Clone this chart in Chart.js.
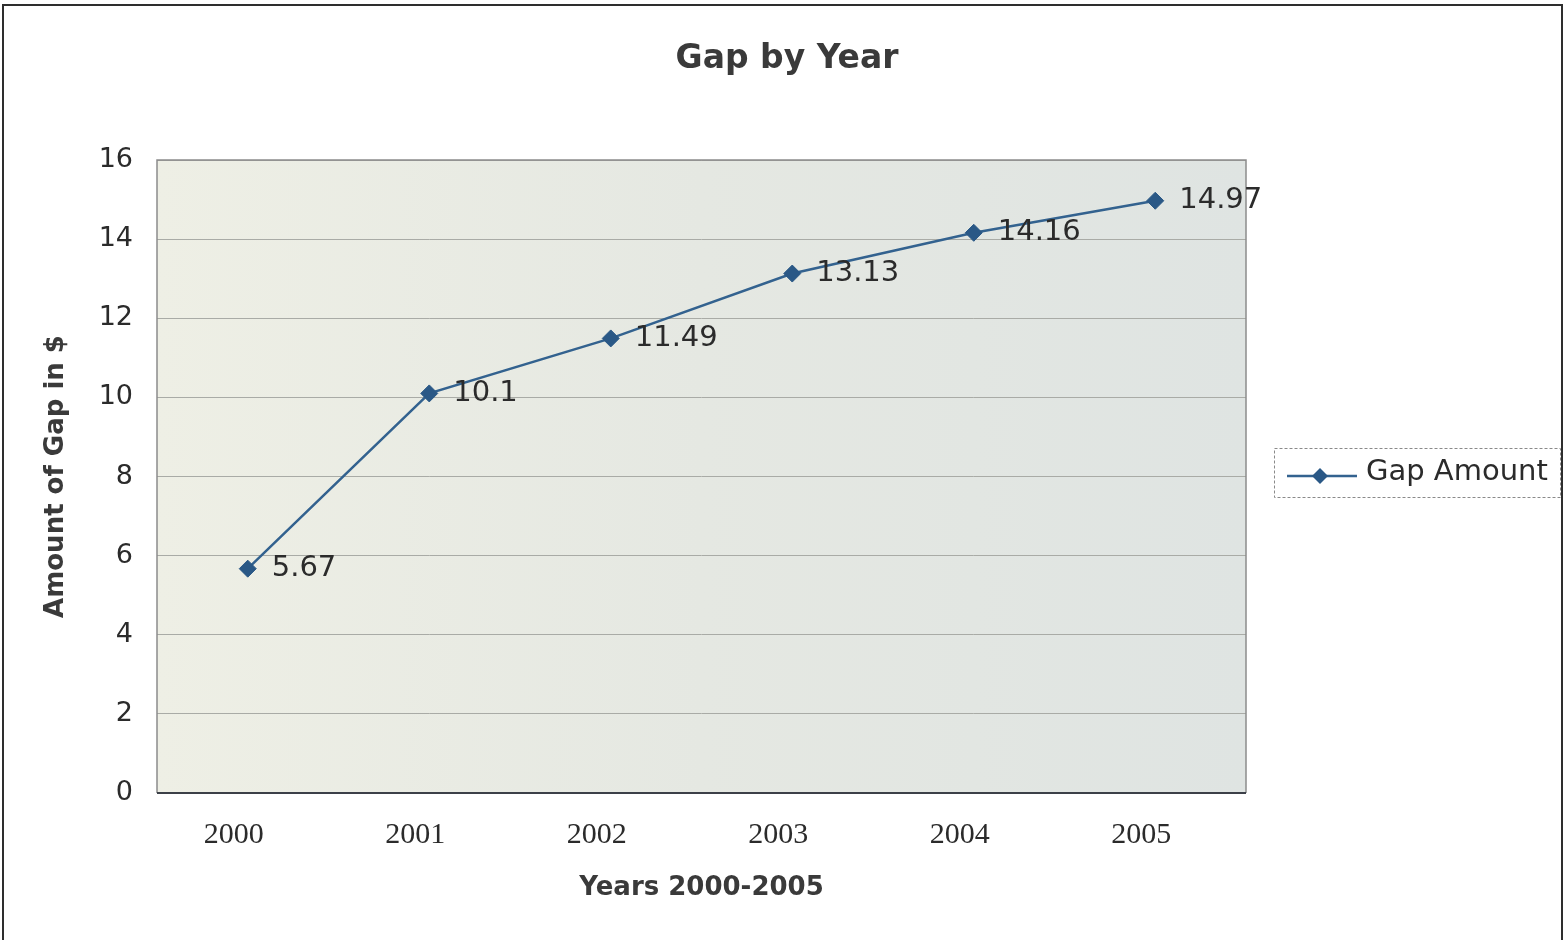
<!DOCTYPE html>
<html>
<head>
<meta charset="utf-8">
<title>Gap by Year</title>
<script src="https://cdn.jsdelivr.net/npm/chart.js@4/dist/chart.umd.min.js"></script>
<style>
  html, body { margin: 0; padding: 0; background: #ffffff; overflow: hidden; }
  #gap { display: block; }
</style>
</head>
<body>
<canvas id="gap" width="1564" height="940"></canvas>
<script>
// Chart data
const years = ['2000', '2001', '2002', '2003', '2004', '2005'];
const gapAmount = [5.67, 10.1, 11.49, 13.13, 14.16, 14.97];
const yTicks = [0, 2, 4, 6, 8, 10, 12, 14, 16];

const chartTitle = 'Gap by Year';
const seriesName = 'Gap Amount';
const xTitle = 'Years 2000-2005';
const yTitle = 'Amount of Gap in $';

const LINE = '#33628f';
const MARK = '#2a5886';
const TEXT = '#2b2b2b';

// Page frame, plot background gradient and plot border
const framePlugin = {
  id: 'frame',
  beforeDraw(chart) {
    const { ctx, chartArea: a } = chart;
    ctx.save();
    ctx.fillStyle = '#ffffff';
    ctx.fillRect(0, 0, chart.width, chart.height);
    const g = ctx.createLinearGradient(a.left, 0, a.right, 0);
    g.addColorStop(0, '#eeefe5');
    g.addColorStop(0.5, '#e5e8e2');
    g.addColorStop(1, '#dfe4e2');
    ctx.fillStyle = g;
    ctx.fillRect(a.left, a.top, a.right - a.left, a.bottom - a.top);
    // outer frame
    ctx.strokeStyle = '#2e2e2e';
    ctx.lineWidth = 2;
    ctx.strokeRect(3, 5, chart.width - 5, chart.height - 4);
    ctx.restore();
  },
  afterDatasetsDraw(chart) {
    const { ctx, chartArea: a } = chart;
    ctx.save();
    ctx.lineWidth = 1.5;
    ctx.strokeStyle = '#8c8c8c';
    ctx.beginPath();
    ctx.moveTo(a.left, a.bottom);
    ctx.lineTo(a.left, a.top);
    ctx.lineTo(a.right, a.top);
    ctx.lineTo(a.right, a.bottom);
    ctx.stroke();
    ctx.strokeStyle = '#3c4048';
    ctx.lineWidth = 2;
    ctx.beginPath();
    ctx.moveTo(a.left, a.bottom);
    ctx.lineTo(a.right, a.bottom);
    ctx.stroke();
    ctx.restore();
  }
};

// Title, point value labels and the side legend
const labelsPlugin = {
  id: 'labels',
  afterDraw(chart) {
    const { ctx } = chart;
    ctx.save();
    // title
    ctx.fillStyle = '#3a3a3a';
    ctx.font = 'bold 33px "DejaVu Sans"';
    ctx.textAlign = 'center';
    ctx.textBaseline = 'middle';
    ctx.fillText(chartTitle, 787, 59);

    // value labels to the right of each point
    const meta = chart.getDatasetMeta(0);
    ctx.font = '29px "DejaVu Sans"';
    ctx.fillStyle = TEXT;
    ctx.textAlign = 'left';
    meta.data.forEach((pt, i) => {
      ctx.fillText(String(gapAmount[i]), pt.x + 24, pt.y);
    });

    // legend box
    const lx = 1274, ly = 448, lw = 286, lh = 49;
    ctx.strokeStyle = '#8a8a8a';
    ctx.lineWidth = 1;
    ctx.setLineDash([3, 2]);
    ctx.strokeRect(lx + 0.5, ly + 0.5, lw, lh);
    ctx.setLineDash([]);
    const cy = ly + 28;
    ctx.strokeStyle = LINE;
    ctx.lineWidth = 2.5;
    ctx.beginPath();
    ctx.moveTo(1287, cy);
    ctx.lineTo(1357, cy);
    ctx.stroke();
    ctx.fillStyle = MARK;
    ctx.beginPath();
    ctx.moveTo(1320, cy - 8);
    ctx.lineTo(1328, cy);
    ctx.lineTo(1320, cy + 8);
    ctx.lineTo(1312, cy);
    ctx.closePath();
    ctx.fill();
    ctx.fillStyle = TEXT;
    ctx.font = '29px "DejaVu Sans"';
    ctx.textBaseline = 'middle';
    ctx.fillText(seriesName, 1366, ly + 24);
    ctx.restore();
  }
};

new Chart(document.getElementById('gap'), {
  type: 'line',
  data: {
    labels: years,
    datasets: [{
      label: seriesName,
      data: gapAmount,
      borderColor: LINE,
      borderWidth: 2.5,
      pointStyle: 'rectRot',
      pointRadius: 8.5,
      pointBackgroundColor: MARK,
      pointBorderColor: MARK,
      pointBorderWidth: 1,
      tension: 0,
      fill: false
    }]
  },
  options: {
    responsive: false,
    animation: false,
    devicePixelRatio: 1,
    layout: { padding: { left: 30, top: 160, right: 318, bottom: 15 } },
    plugins: {
      legend: { display: false },
      title: { display: false },
      tooltip: { enabled: false }
    },
    scales: {
      x: {
        offset: true,
        grid: { display: false, drawTicks: false },
        border: { display: false },
        ticks: {
          color: TEXT,
          font: { family: '"Liberation Serif"', size: 30 },
          padding: 24,
          labelOffset: -14,
          maxRotation: 0
        },
        title: {
          display: true,
          text: xTitle,
          color: '#3a3a3a',
          font: { family: '"DejaVu Sans"', size: 26, weight: 'bold' },
          padding: { top: 0, bottom: 21 }
        },
        afterFit(scale) { scale.height = 132; }
      },
      y: {
        min: 0,
        max: 16,
        afterBuildTicks(scale) { scale.ticks = yTicks.map(v => ({ value: v })); },
        grid: { color: '#a9aba6', lineWidth: 1, drawTicks: false },
        border: { display: false },
        ticks: {
          color: TEXT,
          font: { family: '"DejaVu Sans"', size: 27 },
          padding: 24
        },
        title: {
          display: true,
          text: yTitle,
          color: '#3a3a3a',
          font: { family: '"DejaVu Sans"', size: 26, weight: 'bold' },
          padding: { top: 11, bottom: 0 }
        },
        afterFit(scale) { scale.width = 127; }
      }
    }
  },
  plugins: [framePlugin, labelsPlugin]
});
</script>
</body>
</html>
